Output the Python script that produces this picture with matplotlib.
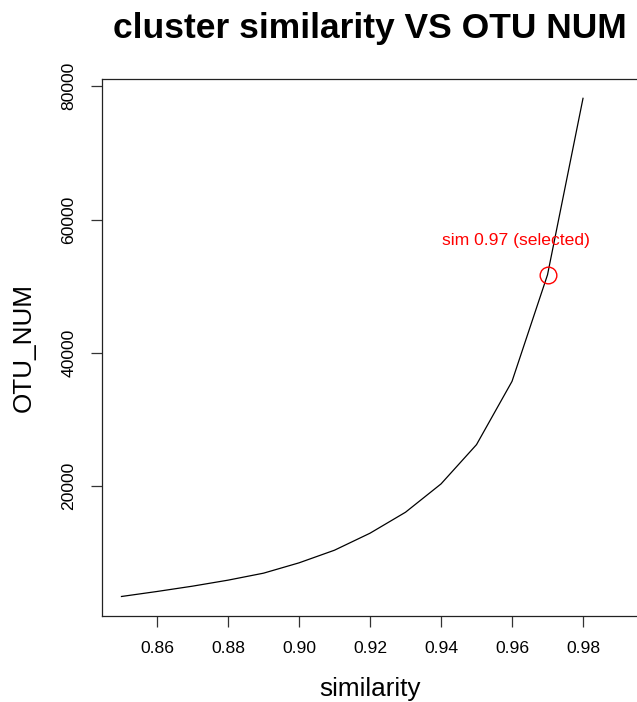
import matplotlib
matplotlib.use("Agg")
import matplotlib.pyplot as plt

plt.rcParams["font.family"] = ["Liberation Sans", "DejaVu Sans"]

# clustering similarity threshold vs. resulting OTU count
similarity = [0.85, 0.86, 0.87, 0.88, 0.89, 0.90, 0.91,
              0.92, 0.93, 0.94, 0.95, 0.96, 0.97, 0.98]
otu_num = [3400, 4150, 4950, 5850, 6900, 8450, 10350,
           12900, 16050, 20300, 26200, 35700, 51700, 78200]

selected_sim = 0.97
selected_otu = 51700
selected_label = "sim 0.97 (selected)"
label_pos = (0.961, 56900)

x_ticks = [0.86, 0.88, 0.90, 0.92, 0.94, 0.96, 0.98]
x_ticklabels = ["0.86", "0.88", "0.90", "0.92", "0.94", "0.96", "0.98"]
y_ticks = [20000, 40000, 60000, 80000]
y_ticklabels = ["20000", "40000", "60000", "80000"]

W, H = 637, 702
fig = plt.figure(figsize=(W / 100, H / 100), dpi=100)
left, right, top, bottom = 101.6, 638.4, 79, 616
ax = fig.add_axes([left / W, 1 - bottom / H, (right - left) / W, (bottom - top) / H])

ax.plot(similarity, otu_num, color="black", lw=0.9)
ax.plot([selected_sim], [selected_otu], marker="o", ms=12, mfc="none",
        mec="red", mew=1.0, ls="none")
ax.text(label_pos[0], label_pos[1], selected_label, color="red",
        fontsize=12.6, ha="center", va="center")

ax.set_xlim(0.8444, 0.9956)
ax.set_ylim(470, 81100)

ax.set_xticks(x_ticks)
ax.set_xticklabels(x_ticklabels)
ax.set_yticks(y_ticks)
ax.set_yticklabels(y_ticklabels, rotation=90, va="center")
ax.tick_params(axis="both", direction="out", length=8, width=0.9,
               labelsize=12.6, pad=10, color="#333333")

for s in ax.spines.values():
    s.set_linewidth(0.9)
    s.set_color("#222222")

fig.text(0.5 * (left + right) / W, 1 - 38 / H, "cluster similarity VS OTU NUM",
         fontsize=25.5, fontweight="bold", ha="center", va="baseline")
fig.text(0.5 * (left + right) / W, 1 - 696 / H, "similarity",
         fontsize=18.8, ha="center", va="baseline")
fig.text(24 / W, 1 - 347 / H, "OTU_NUM", fontsize=18.8, rotation=90,
         ha="center", va="center")

fig.savefig("out.png", dpi=100, facecolor="white")
